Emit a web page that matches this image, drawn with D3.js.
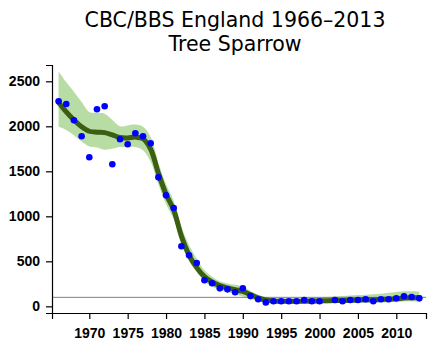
<!DOCTYPE html>
<html>
<head>
<meta charset="utf-8">
<script src="https://cdn.jsdelivr.net/npm/d3@7"></script>
<style>
  body { margin: 0; background: #fff; }
  svg { display: block; }
  .tick text { font-family: "Liberation Sans", Arial, sans-serif; font-weight: bold; font-size: 14px; fill: #000; }
</style>
</head>
<body>
<div id="chart"></div>
<script>
// Survey years and annual index (2001 missing - no survey)
const years = d3.range(1966, 2014);
const index = [2278, 2248, 2067, 1889, 1656, 2189, 2222, 1578, 1856, 1800,
               1922, 1889, 1811, 1433, 1233, 1092, 667, 567, 481, 289,
               256, 200, 189, 156, 200, 114, 78, 44, 56, 56,
               56, 56, 70, 56, 56, null, 70, 56, 70, 70,
               78, 56, 78, 78, 89, 111, 103, 89];

// Smoothed trend and confidence limits
const trend = [2265, 2160, 2070, 1995, 1945, 1935, 1930, 1905, 1875, 1870,
               1880, 1862, 1745, 1480, 1245, 1070, 780, 570, 430, 330,
               270, 230, 205, 185, 165, 130, 95, 70, 60, 57,
               56, 56, 57, 58, 60, 62, 64, 66, 68, 70,
               72, 74, 77, 80, 85, 92, 95, 97];
const upper = [2610, 2490, 2385, 2270, 2160, 2150, 2140, 2070, 2000, 2010,
               2020, 1995, 1880, 1595, 1355, 1170, 880, 680, 530, 400,
               330, 280, 255, 240, 220, 170, 130, 100, 90, 85,
               85, 85, 88, 92, 98, 105, 110, 115, 120, 125,
               130, 135, 140, 150, 160, 168, 168, 165];
const lower = [1995, 1960, 1900, 1830, 1775, 1765, 1740, 1750, 1770, 1770,
               1770, 1735, 1605, 1355, 1135, 970, 690, 500, 380, 280,
               220, 180, 160, 135, 110, 85, 60, 45, 35, 30,
               30, 30, 30, 30, 32, 34, 35, 36, 37, 38,
               40, 40, 42, 45, 50, 55, 55, 55];

const refLevel = 100;
const xTicks = [1970, 1975, 1980, 1985, 1990, 1995, 2000, 2005, 2010];
const yTicks = [0, 500, 1000, 1500, 2000, 2500];

const width = 434;
const height = 353;

const x = d3.scaleLinear().domain([1965.14, 2013.87]).range([52, 426]);
const y = d3.scaleLinear().domain([-74, 2681]).range([313, 65]);

const svg = d3.select("#chart")
    .append("svg")
    .attr("width", width)
    .attr("height", height);

// Title
const title = svg.append("text")
    .attr("text-anchor", "middle")
    .style("font-family", "'DejaVu Sans', Verdana, sans-serif")
    .style("font-size", "20.5px")
    .attr("fill", "#000");
title.append("tspan").attr("x", 235).attr("y", 27).text("CBC/BBS England 1966\u20132013");
title.append("tspan").attr("x", 235).attr("y", 51).text("Tree Sparrow");

const rows = years.map((yr, i) => ({ year: yr, index: index[i], trend: trend[i], upper: upper[i], lower: lower[i] }));

const smooth = d3.curveCatmullRom.alpha(0.5);

// Confidence band
const band = d3.area()
    .x(d => x(d.year))
    .y0(d => y(d.lower))
    .y1(d => y(d.upper))
    .curve(smooth);

svg.append("path")
    .datum(rows)
    .attr("d", band)
    .attr("fill", "#b7dca4");

// Reference line at 100
svg.append("line")
    .attr("x1", x.range()[0]).attr("x2", x.range()[1])
    .attr("y1", y(refLevel)).attr("y2", y(refLevel))
    .attr("stroke", "#808080")
    .attr("stroke-width", 1);

// Trend line
const line = d3.line()
    .x(d => x(d.year))
    .y(d => y(d.trend))
    .curve(smooth);

svg.append("path")
    .datum(rows)
    .attr("d", line)
    .attr("fill", "none")
    .attr("stroke", "#3c5e12")
    .attr("stroke-width", 5)
    .attr("stroke-linecap", "round");

// Annual points
svg.selectAll(".pt")
    .data(rows.filter(d => d.index != null))
    .enter()
    .append("circle")
    .attr("class", "pt")
    .attr("cx", d => x(d.year))
    .attr("cy", d => y(d.index))
    .attr("r", 3.3)
    .attr("fill", "#0000ff");

// Axes
svg.append("g")
    .attr("transform", `translate(0,${y.range()[0]})`)
    .call(d3.axisBottom(x).tickValues(xTicks).tickFormat(d3.format("d")).tickSizeOuter(0).tickSize(6).tickPadding(9));

svg.append("g")
    .attr("transform", `translate(${x.range()[0]},0)`)
    .call(d3.axisLeft(y).tickValues(yTicks).tickFormat(d3.format("d")).tickSizeOuter(0).tickSize(6).tickPadding(6));

svg.selectAll(".domain").attr("stroke", "#000").attr("stroke-width", 1.2);
svg.selectAll(".tick line").attr("stroke", "#000").attr("stroke-width", 1.2);
</script>
</body>
</html>
